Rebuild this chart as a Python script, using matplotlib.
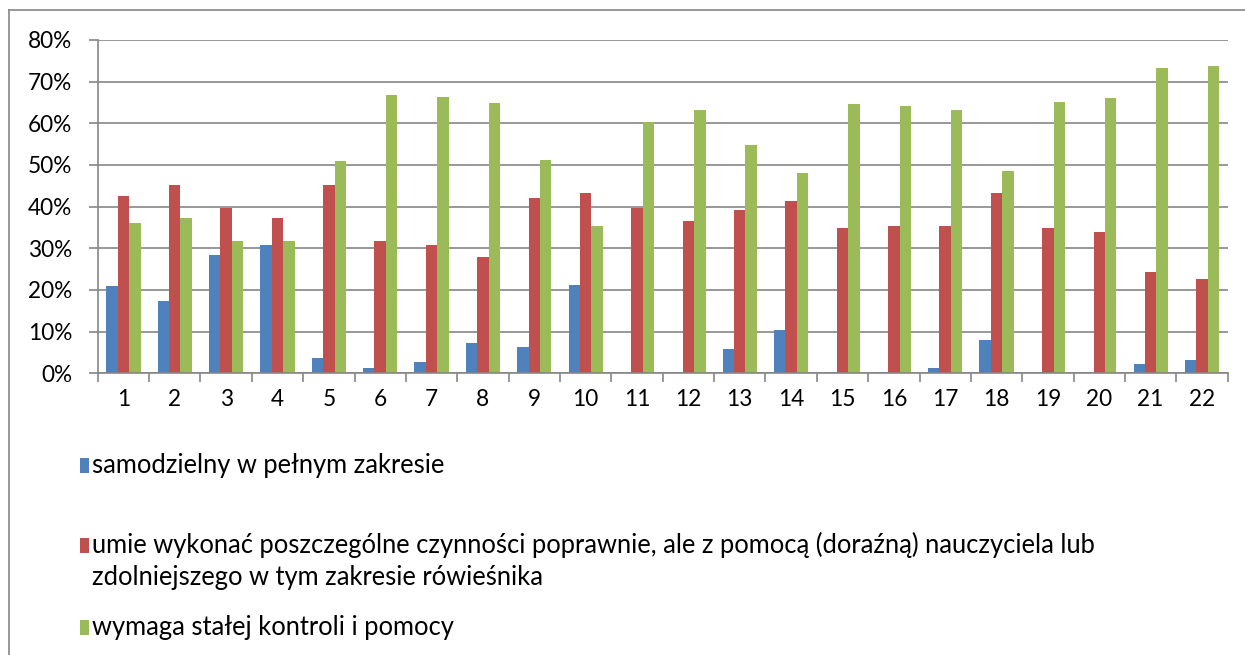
import matplotlib
matplotlib.use("Agg")
import matplotlib.pyplot as plt
import numpy as np
from matplotlib.lines import Line2D
from matplotlib.patches import Rectangle

categories = [str(i) for i in range(1, 23)]
samodzielny = [21.0, 17.4, 28.3, 30.7, 3.6, 1.2, 2.6, 7.2, 6.2, 21.2, 0.0, 0.0,
               5.8, 10.4, 0.4, 0.4, 1.2, 7.9, 0.0, 0.0, 2.2, 3.3]
z_pomoca = [42.6, 45.1, 39.6, 37.3, 45.1, 31.8, 30.9, 27.8, 42.1, 43.2, 39.6, 36.6,
            39.1, 41.4, 34.8, 35.3, 35.3, 43.2, 34.8, 33.9, 24.2, 22.6]
stala_kontrola = [36.1, 37.3, 31.8, 31.8, 51.0, 66.7, 66.2, 64.9, 51.3, 35.3, 60.3, 63.3,
                  54.8, 48.1, 64.6, 64.1, 63.3, 48.6, 65.1, 66.0, 73.3, 73.8]
series_labels = [
    "samodzielny w pełnym zakresie",
    "umie wykonać poszczególne czynności poprawnie, ale z pomocą (doraźną) nauczyciela lub\nzdolniejszego w tym zakresie rówieśnika",
    "wymaga stałej kontroli i pomocy",
]
colors = ["#4F81BD", "#C0504D", "#9BBB59"]
yticks = [0, 10, 20, 30, 40, 50, 60, 70, 80]
ytick_labels = [f"{v}%" for v in yticks]

FONT = "Lato"
W, H = 1245, 655
fig = plt.figure(figsize=(W / 100, H / 100), dpi=100)
fig.patch.set_facecolor("white")

ax = fig.add_axes([97.7 / W, (H - 373.3) / H, 1130 / W, 333.3 / H])
n = len(categories)
x = np.arange(n)
bw = 1 / 4.5
for i, (vals, c) in enumerate(zip([samodzielny, z_pomoca, stala_kontrola], colors)):
    ax.bar(x + (i - 1) * bw, vals, width=bw, color=c, linewidth=0, zorder=3)

ax.set_xlim(-0.5, n - 0.5)
ax.set_ylim(0, 80)
ax.set_yticks(yticks)
ax.set_yticklabels(ytick_labels, fontfamily=FONT, fontsize=16.3)
ax.set_xticks(x)
ax.set_xticklabels(categories, fontfamily=FONT, fontsize=16.3)
ax.set_xticks(np.arange(n + 1) - 0.5, minor=True)
ax.tick_params(axis="x", which="major", length=0, pad=11)
ax.tick_params(axis="x", which="minor", length=6.3, width=1.2, color="#868686")
ax.tick_params(axis="y", length=6.3, width=1.2, color="#868686", pad=12)
ax.grid(axis="y", color="#868686", linewidth=1.2, zorder=0)
for s in ["top", "right"]:
    ax.spines[s].set_visible(False)
for s in ["left", "bottom"]:
    ax.spines[s].set_color("#868686")
    ax.spines[s].set_linewidth(1.2)
ax.spines["bottom"].set_zorder(4)

# outer chart border (top and left visible)
fig.add_artist(Line2D([9 / W, 1.0], [1 - 10 / H, 1 - 10 / H], transform=fig.transFigure,
                      color="#868686", linewidth=1.2))
fig.add_artist(Line2D([9 / W, 9 / W], [0, 1 - 10 / H], transform=fig.transFigure,
                      color="#868686", linewidth=1.2))

# legend
leg_baselines = [473, 553, 635]
for lab, c, yb in zip(series_labels, colors, leg_baselines):
    fig.add_artist(Rectangle((80 / W, 1 - yb / H), 9 / W, 15 / H,
                             transform=fig.transFigure, facecolor=c, edgecolor="none"))
    for k, line in enumerate(lab.split("\n")):
        fig.text(92 / W, 1 - (yb + 32 * k) / H, line, fontfamily=FONT, fontsize=18.4,
                 va="baseline", ha="left")

fig.savefig("out.png", dpi=100)
